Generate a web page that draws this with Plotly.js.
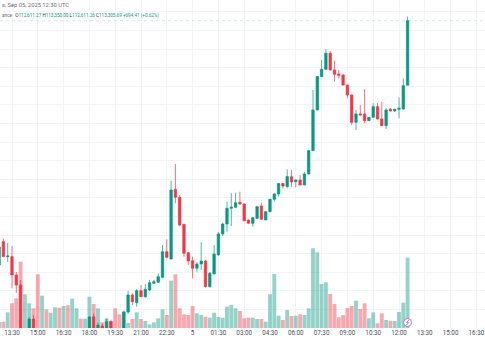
<!DOCTYPE html>
<html>
<head>
<meta charset="utf-8">
<script src="https://cdn.plot.ly/plotly-3.0.1.min.js"></script>
<style>html,body{margin:0;padding:0;background:#fff;}#chart{width:485px;height:360px;}</style>
</head>
<body>
<div id="chart"></div>
<script>
// 15-minute candles, BTC/USDT (Binance), first candle 2025-09-04 12:45 UTC
const startTime = '2025-09-04T12:45:00';
const stepMinutes = 15;

const openPrices = [
  110679, 110930, 110769, 110769, 110572, 110464,
  109880, 109960, 110098, 109870, 109650, 109780, 109690, 109750, 109850, 109760, 109860, 109780, 109880, 109960, 109900,
  109980, 110123, 109990, 110023, 109985, 110070, 109960, 109900, 109850,
  110174, 110357, 110274, 110403, 110338, 110410, 110482, 110493, 110547, 110822,
  110744, 111493, 111407, 111117, 110811, 110725, 110644, 110690, 110722, 110446,
  110583, 110787, 111013, 111120, 111289, 111300, 111353, 111335, 111163, 111128,
  111181, 111314, 111163, 111252, 111386, 111443, 111555, 111523, 111628, 111575,
  111593, 111539, 111658, 111908, 112346, 112704, 112783, 112955, 112776, 112733,
  112722, 112614, 112507, 112213, 112303, 112303, 112231, 112267, 112381, 112249,
  112177, 112353, 112335, 112353, 112356, 112611.27
];
const highPrices = [
  110916, 110964, 110916, 110884, 110604, 110518,
  109985, 110120, 110140, 109950, 109820, 109850, 109790, 109900, 109890, 109910, 109900, 109930, 109990, 109995, 109998,
  110130, 110160, 110060, 110050, 110100, 110090, 109990, 109950, 110190,
  110400, 110378, 110421, 110464, 110475, 110518, 110518, 110590, 110894, 110956,
  111586, 111765, 111432, 111120, 110819, 110769, 110712, 110923, 110733, 110604,
  110894, 111034, 111134, 111360, 111450, 111457, 111467, 111340, 111168, 111195,
  111314, 111349, 111260, 111389, 111448, 111561, 111559, 111708, 111701, 111598,
  111647, 111682, 111916, 112561, 112711, 112883, 112998, 112980, 112875, 112776,
  112727, 112620, 112512, 112346, 112399, 112568, 112270, 112418, 112421, 112435,
  112367, 112367, 112360, 112482, 112686, 113350.00
];
const lowPrices = [
  110615, 110765, 110712, 110429, 110378, 109850,
  109800, 109900, 109850, 109600, 109580, 109640, 109650, 109720, 109700, 109730, 109740, 109750, 109850, 109860, 109870,
  109950, 109950, 109960, 109970, 109960, 109940, 109880, 109800, 109820,
  110150, 110249, 110231, 110335, 110330, 110400, 110475, 110486, 110536, 110751,
  110738, 111342, 111099, 110769, 110679, 110536, 110607, 110626, 110439, 110437,
  110577, 110781, 110991, 111037, 111099, 111292, 111330, 111152, 111120, 111091,
  111179, 111167, 111160, 111249, 111360, 111413, 111504, 111504, 111521, 111515,
  111536, 111536, 111654, 111905, 112340, 112700, 112776, 112770, 112650, 112686,
  112609, 112471, 112184, 112131, 112286, 112203, 112227, 112265, 112243, 112174,
  112141, 112329, 112324, 112256, 112351, 112611.26
];
const closePrices = [
  110873, 110769, 110776, 110572, 110464, 109880,
  109960, 110098, 109870, 109650, 109780, 109690, 109750, 109850, 109760, 109860, 109780, 109880, 109960, 109900, 109980,
  110120, 109990, 110034, 109985, 110070, 109960, 109900, 109850, 110174,
  110357, 110285, 110403, 110338, 110418, 110489, 110500, 110553, 110822, 110762,
  111486, 111407, 111109, 110805, 110722, 110644, 110690, 110722, 110446, 110590,
  110798, 111013, 111120, 111289, 111300, 111349, 111335, 111155, 111128, 111188,
  111306, 111171, 111252, 111386, 111443, 111555, 111528, 111631, 111572, 111593,
  111539, 111658, 111908, 112346, 112706, 112783, 112955, 112776, 112729, 112719,
  112614, 112507, 112213, 112303, 112292, 112231, 112267, 112381, 112249, 112177,
  112346, 112335, 112353, 112364, 112607, 113305.69
];
const volumes = [
  60, 63, 157, 247, 297, 663,
  337, 247, 197, 537, 323, 187, 153, 207, 203, 220, 227, 293, 197, 93, 93,
  313, 240, 197, 57, 97, 70, 197, 137, 163,
  50, 90, 157, 90, 70, 37, 57, 97, 187, 130,
  473, 537, 197, 137, 130, 220, 147, 130, 113, 103,
  153, 110, 103, 213, 230, 197, 170, 97, 103, 103,
  90, 90, 63, 337, 540, 123, 80, 180, 120, 123,
  137, 130, 197, 797, 757, 440, 457, 340, 240, 107,
  130, 200, 220, 273, 190, 247, 97, 157, 47, 147,
  80, 73, 70, 160, 253, 703
];

const tickVals = ['2025-09-04 13:30','2025-09-04 15:00','2025-09-04 16:30','2025-09-04 18:00','2025-09-04 19:30','2025-09-04 21:00','2025-09-04 22:30','2025-09-05 00:00','2025-09-05 01:30','2025-09-05 03:00','2025-09-05 04:30','2025-09-05 06:00','2025-09-05 07:30','2025-09-05 09:00','2025-09-05 10:30','2025-09-05 12:00','2025-09-05 13:30','2025-09-05 15:00','2025-09-05 16:30'];
const tickText = ['13:30','15:00','16:30','18:00','19:30','21:00','22:30','5','01:30','03:00','04:30','06:00','07:30','09:00','10:30','12:00','13:30','15:00','16:30'];

const headerDate = 's, Sep 05, 2025 12:30 UTC';
const ohlcLabel = { o: '112,611.27', h: '113,350.00', l: '112,611.26', c: '113,305.69', chg: '+694.41 (+0.62%)' };

// --- build ---
function pad(n){return (n<10?'0':'')+n;}
const t0 = new Date(startTime + 'Z').getTime();
const times = openPrices.map((_, i) => {
  const d = new Date(t0 + i * stepMinutes * 60000);
  return d.getUTCFullYear()+'-'+pad(d.getUTCMonth()+1)+'-'+pad(d.getUTCDate())+' '+pad(d.getUTCHours())+':'+pad(d.getUTCMinutes());
});
const UP = '#089981', DOWN = '#F23645';
const volColors = closePrices.map((c, i) => c >= openPrices[i] ? 'rgba(8,153,129,0.43)' : 'rgba(242,54,69,0.43)');

const volTrace = {
  type: 'bar', x: times, y: volumes, yaxis: 'y', xaxis: 'x',
  width: stepMinutes * 60000 * 0.9,
  marker: { color: volColors, line: { width: 0 } },
  hoverinfo: 'skip'
};
const candleTrace = {
  type: 'candlestick', x: times, open: openPrices, high: highPrices, low: lowPrices, close: closePrices,
  xaxis: 'x', yaxis: 'y2', whiskerwidth: 0,
  increasing: { line: { color: 'rgba(8,153,129,0.7)', width: 1 }, fillcolor: UP },
  decreasing: { line: { color: 'rgba(242,54,69,0.7)', width: 1 }, fillcolor: DOWN },
  hoverinfo: 'skip'
};

const lastTime = times[times.length - 1];
const lastClose = closePrices[closePrices.length - 1];
const grey = '#6a6d78';
const green = '#089981';

const layout = {
  width: 485, height: 360,
  margin: { l: 0, r: 0, t: 0, b: 32 },
  paper_bgcolor: '#ffffff', plot_bgcolor: '#ffffff',
  showlegend: false,
  boxgap: 0.2,
  font: { family: 'Roboto, "Liberation Sans", sans-serif', color: '#4a4e59' },
  xaxis: {
    type: 'date',
    range: ['2025-09-04 12:48:09', '2025-09-05 17:00'],
    rangeslider: { visible: false },
    tickmode: 'array', tickvals: tickVals, ticktext: tickText,
    tickfont: { size: 6.3, color: '#4a4e59' },
    ticklabeloverflow: 'allow',
    showgrid: true, gridcolor: '#f3f4f7', gridwidth: 1,
    ticks: '', ticklen: 0, showline: false, zeroline: false,
    fixedrange: true
  },
  yaxis: {
    range: [0, 3280], showgrid: false, showticklabels: false, zeroline: false, showline: false, fixedrange: true
  },
  yaxis2: {
    overlaying: 'y', side: 'right',
    range: [110002, 113528],
    showticklabels: false, showgrid: true, gridcolor: '#f3f4f7', dtick: 200, tick0: 0,
    zeroline: false, showline: false, fixedrange: true
  },
  shapes: [
    { type: 'line', xref: 'paper', x0: 0, x1: 1, yref: 'y2', y0: lastClose, y1: lastClose,
      line: { color: 'rgba(8,153,129,0.18)', width: 1, dash: 'dot' } },
    { type: 'circle', xref: 'x', xsizemode: 'pixel', xanchor: lastTime, x0: -4, x1: 4,
      yref: 'paper', ysizemode: 'pixel', yanchor: 0, y0: 1.5, y1: 9.5,
      fillcolor: '#ffffff', line: { color: '#b86fd4', width: 1 } },
    { type: 'path', xref: 'x', xsizemode: 'pixel', xanchor: lastTime,
      yref: 'paper', ysizemode: 'pixel', yanchor: 0,
      path: 'M 1.2 8 L -1 5.3 L 1 5.3 L -1.2 3', line: { color: '#b86fd4', width: 1 } }
  ],
  annotations: [
    { xref: 'paper', yref: 'paper', x: 0, y: 1 - 4.7/328, xanchor: 'left', yanchor: 'middle', showarrow: false,
      text: headerDate, font: { size: 5.8, color: grey } },
    { xref: 'paper', yref: 'paper', x: 0, y: 1 - 15.7/328, xanchor: 'left', yanchor: 'middle', showarrow: false,
      text: '<span style="color:'+grey+'">ance </span>  O<span style="color:'+green+'">'+ohlcLabel.o+'</span> H<span style="color:'+green+'">'+ohlcLabel.h+'</span> L<span style="color:'+green+'">'+ohlcLabel.l+'</span> C<span style="color:'+green+'">'+ohlcLabel.c+'</span> <span style="color:'+green+'">'+ohlcLabel.chg+'</span>',
      font: { size: 4.6, color: '#333' } }
  ]
};

Plotly.newPlot('chart', [volTrace, candleTrace], layout, { displayModeBar: false, staticPlot: true });
</script>
</body>
</html>
